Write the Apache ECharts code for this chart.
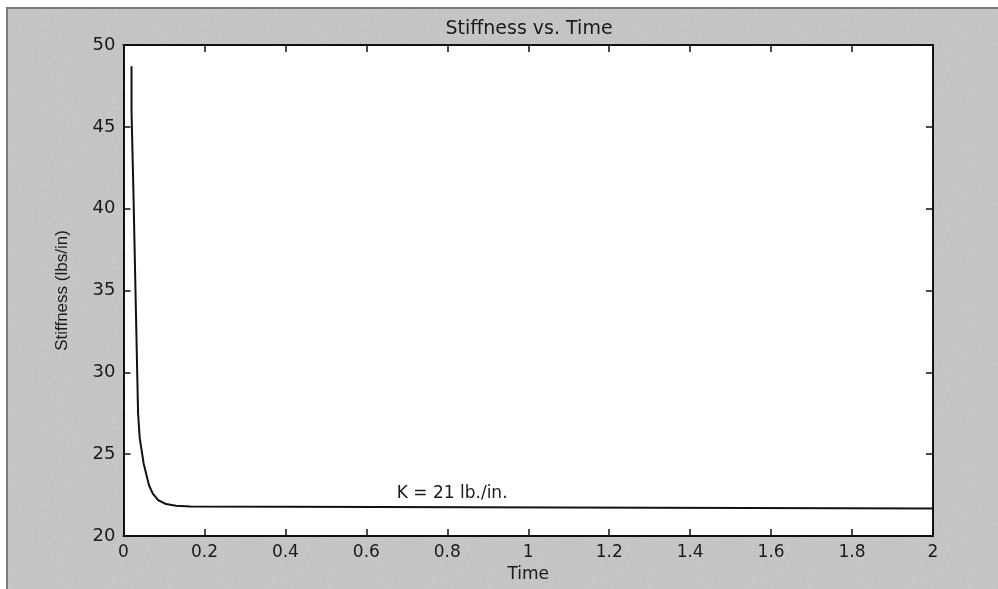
<!DOCTYPE html>
<html>
<head>
  <meta charset="utf-8">
  <script src="https://cdn.jsdelivr.net/npm/echarts@6/dist/echarts.min.js"></script>
  <title>Stiffness vs. Time</title>
  <style>
    html, body { margin: 0; padding: 0; background: #ffffff; }
    #frame {
      position: absolute; left: 6px; top: 7px; width: 992px; height: 582px;
      background-color: #c6c6c6;
      background-image: url("data:image/svg+xml;utf8,<svg xmlns='http://www.w3.org/2000/svg' width='160' height='160'><filter id='n'><feTurbulence type='fractalNoise' baseFrequency='0.9' numOctaves='2' stitchTiles='stitch'/><feColorMatrix type='saturate' values='0'/></filter><rect width='160' height='160' filter='url(%23n)' opacity='0.3'/></svg>");
      border-left: 2px solid #7a7a7a; border-top: 2px solid #7a7a7a;
      box-sizing: border-box;
    }
    #chart { position: absolute; left: 0; top: 0; width: 998px; height: 589px; }
  </style>
</head>
<body>
  <div id="frame"></div>
  <div id="chart"></div>

  <script>
    // values
    const time = [0.0198, 0.0198, 0.0247, 0.0247, 0.029, 0.029, 0.033, 0.036, 0.040, 0.045, 0.050, 0.056, 0.063, 0.072, 0.085, 0.105, 0.13, 0.165, 0.166, 2.0];
    const stiffness = [48.7, 46.0, 46.0, 40.8, 40.8, 35.7, 35.6, 27.5, 26.0, 25.2, 24.4, 23.8, 23.1, 22.6, 22.2, 21.95, 21.85, 21.8, 21.7, 21.68];
    const xTicks = [0, 0.2, 0.4, 0.6, 0.8, 1, 1.2, 1.4, 1.6, 1.8, 2];
    const yTicks = [20, 25, 30, 35, 40, 45, 50];
    const note = { text: "K = 21 lb./in.", t: 0.812, k: 22.6 };

    const points = time.map((t, i) => [t, stiffness[i]]);
    const wide = "DejaVu Sans, Verdana, sans-serif";
    const plain = "Liberation Sans, Arial, Helvetica, sans-serif";
    const ink = "#1a1a1a";

    const chart = echarts.init(document.getElementById("chart"));

    const xBase = {
      type: "value",
      min: xTicks[0],
      max: xTicks[xTicks.length - 1],
      interval: 0.2,
      axisLine: { show: true, onZero: false, lineStyle: { color: "#111", width: 2 } },
      axisTick: { show: true, inside: true, length: 7, lineStyle: { color: "#111", width: 1.5 } },
      splitLine: { show: false },
    };
    const yBase = {
      type: "value",
      min: yTicks[0],
      max: yTicks[yTicks.length - 1],
      interval: 5,
      axisLine: { show: true, onZero: false, lineStyle: { color: "#111", width: 2 } },
      axisTick: { show: true, inside: true, length: 7, lineStyle: { color: "#111", width: 1.5 } },
      splitLine: { show: false },
    };

    const option = {
      animation: false,
      backgroundColor: "transparent",
      title: {
        text: "Stiffness vs. Time",
        left: 524,
        textAlign: "center",
        top: 15,
        textStyle: { fontFamily: wide, fontSize: 19, fontWeight: "normal", color: ink },
      },
      grid: {
        left: 123.5, right: 65, top: 45, bottom: 53,
        show: true, backgroundColor: "#ffffff", borderWidth: 0,
      },
      xAxis: [
        Object.assign({}, xBase, {
          position: "bottom",
          name: "Time",
          nameLocation: "middle",
          nameGap: 30,
          nameTextStyle: { fontFamily: wide, fontSize: 17, color: ink },
          axisLabel: {
            fontFamily: wide, fontSize: 17, color: ink, margin: 8,
            formatter: v => String(+v.toFixed(1)),
          },
        }),
        Object.assign({}, xBase, { position: "top", axisLabel: { show: false } }),
      ],
      yAxis: [
        Object.assign({}, yBase, {
          position: "left",
          name: "Stiffness (lbs/in)",
          nameLocation: "middle",
          nameGap: 53,
          nameTextStyle: { fontFamily: plain, fontSize: 17, color: ink },
          axisLabel: { fontFamily: wide, fontSize: 18, color: ink, margin: 8 },
        }),
        Object.assign({}, yBase, { position: "right", axisLabel: { show: false } }),
      ],
      series: [
        {
          type: "line",
          data: points,
          showSymbol: false,
          symbol: "none",
          lineStyle: { color: "#111", width: 2 },
          markPoint: {
            symbolSize: 0,
            data: [{ coord: [note.t, note.k], value: note.text }],
            label: {
              show: true,
              formatter: note.text,
              fontFamily: wide,
              fontSize: 17,
              color: ink,
            },
          },
        },
      ],
    };

    chart.setOption(option);
  </script>
</body>
</html>
